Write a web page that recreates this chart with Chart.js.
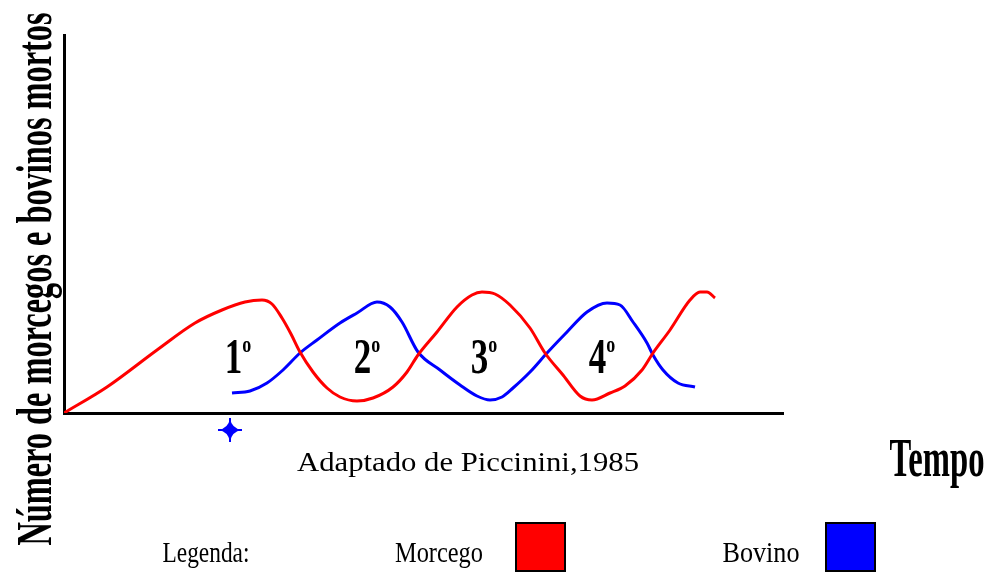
<!DOCTYPE html>
<html lang="pt">
<head>
<meta charset="utf-8">
<title>Morcegos e bovinos mortos</title>
<script src="https://cdn.jsdelivr.net/npm/chart.js@4/dist/chart.umd.min.js"></script>
<style>
  html, body { margin: 0; padding: 0; background: #fff; }
  #wrap { width: 992px; height: 572px; position: relative; }
</style>
</head>
<body>
<div id="wrap"><canvas id="chart"></canvas></div>
<script>
// values (time units along x, count units along y, no scale printed)
const morcegoT = [0, 43, 93, 131, 158, 181, 198, 208, 218, 227, 236, 249, 263, 276, 293, 309, 329, 343, 354, 373, 393, 408, 418, 431, 446, 466, 481, 499, 516, 528, 546, 561, 578, 589, 606, 626, 636, 643, 651];
const morcegoN = [0, 26, 63, 90, 103, 111, 113, 109, 95, 79, 61, 41, 25, 16, 12, 15, 26, 41, 58, 81, 106, 118, 121, 119, 108, 85, 60, 38, 17, 13, 20, 27, 43, 60, 83, 113, 121, 121, 115];
const bovinoT = [168, 186, 203, 219, 236, 253, 276, 293, 313, 326, 338, 354, 376, 396, 413, 426, 438, 449, 466, 483, 503, 523, 543, 556, 569, 583, 589, 599, 614, 631];
const bovinoN = [20, 22, 30, 43, 60, 73, 90, 100, 111, 106, 91, 61, 43, 28, 17, 13, 16, 25, 41, 60, 81, 101, 110, 108, 91, 70, 58, 43, 30, 26];
const cycleLabels = ['1', '2', '3', '4'];
const cycleT = [174, 303, 420, 538];
const cycleN = [40, 40, 40, 40];
const markerT = [166];
const markerN = [-17];

const colors = { morcego: '#ff0000', bovino: '#0000ff', ink: '#000000' };

const toPoints = (xs, ys) => xs.map((x, i) => ({ x, y: ys[i] }));

// four-pointed star used for the blue marker under the axis
function makeStar(size, color) {
  const c = document.createElement('canvas');
  c.width = size; c.height = size;
  const g = c.getContext('2d');
  const m = size / 2, r = size / 2 - 1, k = 1.5;
  g.fillStyle = color;
  g.beginPath();
  g.moveTo(m, m - r);
  g.quadraticCurveTo(m + k, m - k, m + r, m);
  g.quadraticCurveTo(m + k, m + k, m, m + r);
  g.quadraticCurveTo(m - k, m + k, m - r, m);
  g.quadraticCurveTo(m - k, m - k, m, m - r);
  g.fill();
  g.strokeStyle = color;
  g.lineWidth = 2;
  g.beginPath();
  g.moveTo(m, m - r); g.lineTo(m, m + r);
  g.moveTo(m - r, m); g.lineTo(m + r, m);
  g.stroke();
  return c;
}

function fitText(ctx, text, font, x, y, width, angle = 0) {
  ctx.save();
  ctx.font = font;
  const w = ctx.measureText(text).width;
  ctx.translate(x, y);
  ctx.rotate(angle);
  ctx.scale(width / w, 1);
  ctx.textAlign = 'center';
  ctx.textBaseline = 'alphabetic';
  ctx.fillStyle = colors.ink;
  ctx.fillText(text, 0, 0);
  ctx.restore();
}

const annotations = {
  id: 'annotations',
  afterDatasetsDraw(chart) {
    const { ctx, scales: { x, y } } = chart;
    // ordinal labels between the crossings
    cycleLabels.forEach((lab, i) => {
      const px = x.getPixelForValue(cycleT[i]);
      const py = y.getPixelForValue(cycleN[i]);
      ctx.save();
      ctx.font = 'bold 50px "Liberation Serif"';
      const dw = ctx.measureText(lab).width * 0.7;
      ctx.font = 'bold 24px "Liberation Serif"';
      const ow = ctx.measureText('o').width * 0.75;
      const left = px - (dw + ow) / 2;
      ctx.fillStyle = colors.ink;
      ctx.textBaseline = 'alphabetic';
      ctx.translate(left, py);
      ctx.scale(0.7, 1);
      ctx.font = 'bold 50px "Liberation Serif"';
      ctx.fillText(lab, 0, 0);
      ctx.restore();
      ctx.save();
      ctx.fillStyle = colors.ink;
      ctx.translate(left + dw, py - 21);
      ctx.scale(0.75, 1);
      ctx.font = 'bold 24px "Liberation Serif"';
      ctx.fillText('o', 0, 0);
      ctx.restore();
    });
  },
  afterDraw(chart) {
    const { ctx } = chart;
    fitText(ctx, 'Número de morcegos e bovinos mortos', 'bold 50px "Liberation Serif"', 51, 279, 533, -Math.PI / 2);
    fitText(ctx, 'Tempo', 'bold 54px "Liberation Serif"', 937, 476, 95);
    fitText(ctx, 'Adaptado de Piccinini,1985', '28px "Liberation Serif"', 468, 471, 342);
    fitText(ctx, 'Legenda:', '30px "Liberation Serif"', 206, 562, 87);
    // legend entries come from the line datasets
    const entries = [
      { cx: 439, w: 88, box: 516 },
      { cx: 761, w: 77, box: 826 },
    ];
    chart.data.datasets.slice(0, 2).forEach((ds, i) => {
      const e = entries[i];
      fitText(ctx, ds.label, '30px "Liberation Serif"', e.cx, 562, e.w);
      ctx.save();
      ctx.fillStyle = ds.borderColor;
      ctx.strokeStyle = colors.ink;
      ctx.lineWidth = 2;
      ctx.fillRect(e.box, 523, 49, 48);
      ctx.strokeRect(e.box, 523, 49, 48);
      ctx.restore();
    });
  },
};

const hiddenScale = (max, horizontal) => ({
  type: 'linear',
  min: 0,
  max,
  grid: { display: false },
  ticks: { display: false },
  border: { display: true, color: colors.ink, width: 3 },
  afterFit: (s) => { if (horizontal) s.height = 0; else s.width = 0; },
});

new Chart(document.getElementById('chart'), {
  type: 'line',
  data: {
    datasets: [
      { label: 'Morcego', data: toPoints(morcegoT, morcegoN), borderColor: colors.morcego, backgroundColor: colors.morcego, borderWidth: 3, pointRadius: 0, cubicInterpolationMode: 'monotone' },
      { label: 'Bovino', data: toPoints(bovinoT, bovinoN), borderColor: colors.bovino, backgroundColor: colors.bovino, borderWidth: 3, pointRadius: 0, cubicInterpolationMode: 'monotone' },
      // big radius so the point passes the chart-area check; the image keeps its own size
      { label: 'marker', type: 'scatter', data: toPoints(markerT, markerN), pointStyle: makeStar(26, colors.bovino), pointRadius: 24, clip: false },
    ],
  },
  options: {
    responsive: true,
    maintainAspectRatio: false,
    animation: false,
    layout: { padding: { left: 64, right: 209, top: 35, bottom: 159 } },
    plugins: { legend: { display: false }, tooltip: { enabled: false } },
    scales: { x: hiddenScale(719, true), y: hiddenScale(378, false) },
  },
  plugins: [annotations],
});
</script>
</body>
</html>
